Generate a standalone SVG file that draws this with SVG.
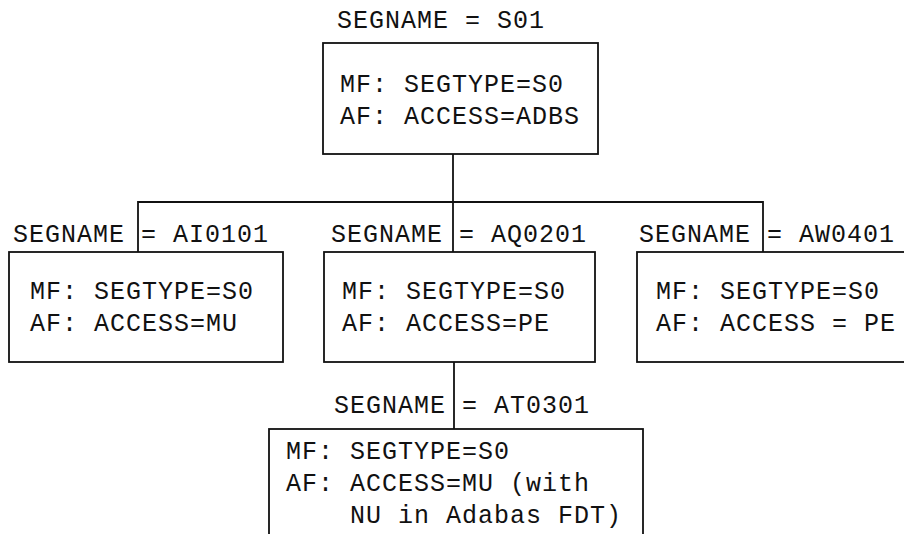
<svg xmlns="http://www.w3.org/2000/svg" width="904" height="534" viewBox="0 0 904 534">
<style>
text{font-family:"Liberation Mono","DejaVu Sans Mono",monospace;font-size:25px;letter-spacing:1px;fill:#111;}
.box{fill:#fff;stroke:#111;stroke-width:1.8;}
.conn{fill:none;stroke:#111;stroke-width:1.8;}
</style>
<rect width="904" height="534" fill="#fff"/>
<g id="connectors">
<line class="conn" x1="453" y1="154" x2="453" y2="252"/>
<polyline class="conn" points="138,252 138,202 763,202 763,252"/>
<line class="conn" x1="454" y1="362" x2="454" y2="429"/>
</g>
<g id="S01">
<text x="337" y="28">SEGNAME = S01</text>
<rect class="box" x="323" y="43" width="275" height="111"/>
<text x="340" y="92">MF: SEGTYPE=S0</text>
<text x="340" y="124">AF: ACCESS=ADBS</text>
</g>
<g id="AI0101">
<text x="13" y="242">SEGNAME = AI0101</text>
<rect class="box" x="9" y="252" width="274" height="110"/>
<text x="30" y="299">MF: SEGTYPE=S0</text>
<text x="30" y="331">AF: ACCESS=MU</text>
</g>
<g id="AQ0201">
<text x="331" y="242">SEGNAME = AQ0201</text>
<rect class="box" x="324" y="252" width="271" height="110"/>
<text x="342" y="299">MF: SEGTYPE=S0</text>
<text x="342" y="331">AF: ACCESS=PE</text>
</g>
<g id="AW0401">
<text x="639" y="242">SEGNAME = AW0401</text>
<rect class="box" x="637" y="252" width="280" height="110"/>
<text x="656" y="299">MF: SEGTYPE=S0</text>
<text x="656" y="331">AF: ACCESS = PE</text>
</g>
<g id="AT0301">
<text x="334" y="413">SEGNAME = AT0301</text>
<rect class="box" x="269" y="429" width="374" height="120"/>
<text x="286" y="459">MF: SEGTYPE=S0</text>
<text x="286" y="491">AF: ACCESS=MU (with</text>
<text x="350" y="523">NU in Adabas FDT)</text>
</g>
</svg>
